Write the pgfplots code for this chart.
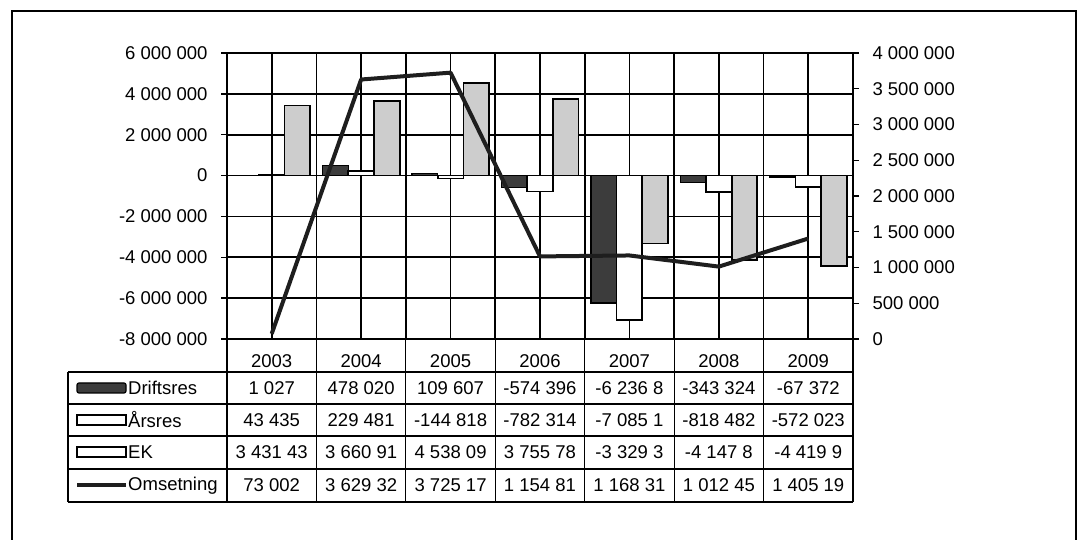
\documentclass[border=0pt]{standalone}
\usepackage{fontspec}
\setmainfont{Liberation Sans}
\usepackage{pgfplots}
\pgfplotsset{compat=1.18}
\definecolor{darkbar}{HTML}{3C3C3C}
\definecolor{lightbar}{HTML}{CDCDCD}
\definecolor{linec}{HTML}{1E1E1E}
\newcommand{\ff}{\fontsize{18.5}{21}\selectfont}
\begin{document}
\begin{tikzpicture}[x=1pt,y=1pt,font=\ff]
\useasboundingbox (0,0) rectangle (1079,540);
\fill[white] (0,0) rectangle (1079,540);
\draw[line width=2pt] (12,529) rectangle (1076,-10);

\begin{axis}[
  at={(227pt,201pt)}, anchor=south west,
  width=626pt, height=286pt, scale only axis,
  xmin=-0.5, xmax=6.5, ymin=-8000000, ymax=6000000,
  scaled y ticks=false,
  xtick={0,1,2,3,4,5,6},
  xticklabels={2003,2004,2005,2006,2007,2008,2009},
  minor xtick={-0.5,0.5,1.5,2.5,3.5,4.5,5.5,6.5},
  xmajorgrids, xminorgrids, ymajorgrids,
  grid style={black, line width=1.6pt},
  minor grid style={black, line width=1.6pt},
  axis line style={black, line width=1.6pt},
  ytick={-8000000,-6000000,-4000000,-2000000,0,2000000,4000000,6000000},
  yticklabels={-8 000 000,-6 000 000,-4 000 000,-2 000 000,0,2 000 000,4 000 000,6 000 000},
  ytick pos=left, tick align=outside,
  major tick length=6pt, minor tick length=0pt,
  xtick style={draw=none},
  ytick style={black, line width=1.4pt},
  tick label style={font=\ff},
  xticklabel style={anchor=center, yshift=-16.5pt},
  yticklabel style={anchor=east, xshift=-10pt},
  ybar=0pt, bar width=0.287,
  clip=false,
]
\addplot[fill=darkbar, draw=black, line width=1.2pt] coordinates {(0,1027) (1,478020) (2,109607) (3,-574396) (4,-6236800) (5,-343324) (6,-67372)};
\addplot[fill=white, draw=black, line width=1.8pt] coordinates {(0,43435) (1,229481) (2,-144818) (3,-782314) (4,-7085100) (5,-818482) (6,-572023)};
\addplot[fill=lightbar, draw=black, line width=1.8pt] coordinates {(0,3431430) (1,3660910) (2,4538090) (3,3755780) (4,-3329300) (5,-4147800) (6,-4419900)};
\end{axis}

\begin{axis}[
  at={(227pt,201pt)}, anchor=south west,
  width=626pt, height=286pt, scale only axis,
  xmin=-0.5, xmax=6.5, ymin=0, ymax=4000000,
  scaled y ticks=false,
  axis x line=none, axis y line*=right,
  axis line style={black, line width=1.6pt},
  ytick={0,500000,1000000,1500000,2000000,2500000,3000000,3500000,4000000},
  yticklabels={0,500 000,1 000 000,1 500 000,2 000 000,2 500 000,3 000 000,3 500 000,4 000 000},
  tick align=outside, major tick length=6pt,
  ytick style={black, line width=1.4pt},
  tick label style={font=\ff},
  yticklabel style={anchor=west, xshift=10pt},
  clip=false,
]
\addplot[linec, line width=4pt, line join=round, mark=none] coordinates {(0,73002) (1,3629320) (2,3725170) (3,1154810) (4,1168310) (5,1012450) (6,1405190)};
\end{axis}

% data table
\begin{scope}[font=\ff]
\foreach \i in {0,...,7} \draw[line width=1.2pt] ({227+89.4286*\i},201) -- ({227+89.4286*\i},38);
\foreach \yy in {168,136,104,71,38} \draw[line width=1.2pt] (68,\yy) -- (853,\yy);
\draw[line width=1.2pt] (68,168) -- (68,38);

\foreach \v [count=\i from 0] in {1 027,478 020,109 607,-574 396,-6 236 8,-343 324,-67 372}
  \node at ({227+89.4286*(\i+0.5)},152) {\v};
\foreach \v [count=\i from 0] in {43 435,229 481,-144 818,-782 314,-7 085 1,-818 482,-572 023}
  \node at ({227+89.4286*(\i+0.5)},120) {\v};
\foreach \v [count=\i from 0] in {3 431 43,3 660 91,4 538 09,3 755 78,-3 329 3,-4 147 8,-4 419 9}
  \node at ({227+89.4286*(\i+0.5)},87.5) {\v};
\foreach \v [count=\i from 0] in {73 002,3 629 32,3 725 17,1 154 81,1 168 31,1 012 45,1 405 19}
  \node at ({227+89.4286*(\i+0.5)},54.5) {\v};

\draw[fill=darkbar, line width=1.2pt, rounded corners=2pt] (77,147) rectangle (126,157);
\draw[fill=white, line width=1.8pt] (77,115) rectangle (126,125);
\draw[fill=white, line width=2pt] (77,82.5) rectangle (126,92.5);
\draw[linec, line width=4pt] (77,54.5) -- (126,54.5);
\node[anchor=west, inner sep=0] at (128,152) {Driftsres};
\node[anchor=west, inner sep=0] at (128,120) {Årsres};
\node[anchor=west, inner sep=0] at (128,87.5) {EK};
\node[anchor=west, inner sep=0] at (128,54.5) {Omsetning};
\end{scope}
\end{tikzpicture}
\end{document}
